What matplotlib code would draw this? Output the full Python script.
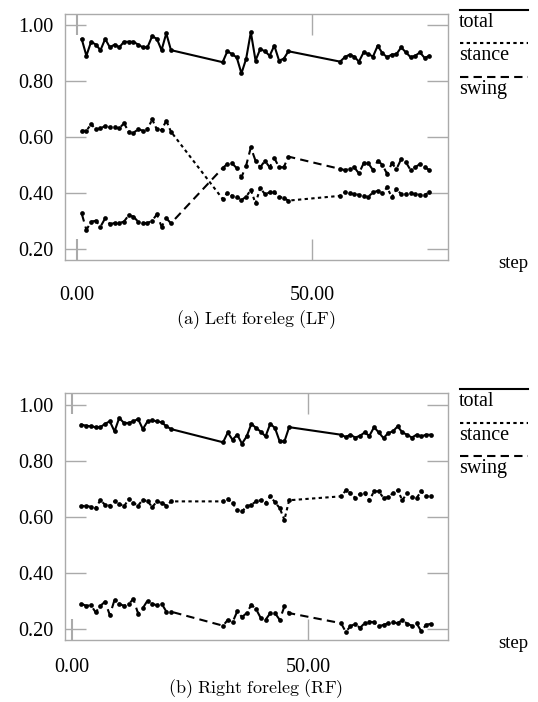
import matplotlib
matplotlib.use('Agg')
import matplotlib.pyplot as plt
from matplotlib.lines import Line2D

plt.rcParams['font.family'] = ['Liberation Serif', 'DejaVu Serif']
plt.rcParams['mathtext.fontset'] = 'cm'

# left foreleg (LF)
lf_step = list(range(1, 21)) + list(range(31, 46)) + list(range(56, 76))
lf_total = [0.95, 0.89, 0.94, 0.93, 0.91, 0.95, 0.92, 0.93, 0.92, 0.94,
            0.94, 0.94, 0.93, 0.92, 0.92, 0.96, 0.95, 0.91, 0.97, 0.91,
            0.867, 0.906, 0.896, 0.884, 0.827, 0.879, 0.974, 0.873, 0.914, 0.906,
            0.89, 0.926, 0.873, 0.879, 0.906,
            0.869, 0.885, 0.894, 0.887, 0.869, 0.902, 0.896, 0.887, 0.926, 0.899,
            0.885, 0.894, 0.896, 0.920, 0.902, 0.885, 0.89, 0.902, 0.882, 0.89]
lf_stance = [0.623, 0.622, 0.646, 0.627, 0.631, 0.639, 0.635, 0.634, 0.631, 0.649,
             0.619, 0.615, 0.627, 0.623, 0.627, 0.663, 0.627, 0.625, 0.658, 0.619,
             0.379, 0.40, 0.39, 0.387, 0.375, 0.387, 0.411, 0.363, 0.418, 0.396,
             0.402, 0.402, 0.387, 0.382, 0.373,
             0.39, 0.402, 0.399, 0.396, 0.394, 0.39, 0.387, 0.402, 0.408, 0.399,
             0.42, 0.385, 0.414, 0.396, 0.396, 0.399, 0.396, 0.394, 0.394, 0.402]
lf_swing = [0.327, 0.268, 0.298, 0.301, 0.28, 0.31, 0.289, 0.293, 0.293, 0.298,
            0.321, 0.316, 0.298, 0.292, 0.293, 0.301, 0.324, 0.28, 0.31, 0.292,
            0.489, 0.504, 0.506, 0.489, 0.456, 0.498, 0.563, 0.515, 0.492, 0.515,
            0.492, 0.525, 0.492, 0.492, 0.53,
            0.486, 0.482, 0.486, 0.492, 0.47, 0.506, 0.506, 0.482, 0.515, 0.501,
            0.468, 0.506, 0.486, 0.521, 0.51, 0.482, 0.492, 0.504, 0.492, 0.482]

# right foreleg (RF)
rf_step = list(range(2, 22)) + list(range(32, 47)) + list(range(57, 77))
rf_total = [0.930, 0.926, 0.924, 0.921, 0.921, 0.933, 0.942, 0.906, 0.954, 0.936,
            0.936, 0.942, 0.95, 0.914, 0.942, 0.945, 0.942, 0.938, 0.924, 0.914,
            0.867, 0.902, 0.876, 0.894, 0.862, 0.888, 0.933, 0.918, 0.905, 0.888,
            0.933, 0.918, 0.870, 0.870, 0.921,
            0.894, 0.886, 0.894, 0.884, 0.89, 0.902, 0.89, 0.921, 0.902, 0.882,
            0.90, 0.906, 0.924, 0.902, 0.894, 0.884, 0.894, 0.888, 0.894, 0.894]
rf_stance = [0.638, 0.641, 0.636, 0.632, 0.66, 0.644, 0.641, 0.656, 0.648, 0.638,
             0.664, 0.65, 0.641, 0.662, 0.656, 0.636, 0.656, 0.65, 0.641, 0.656,
             0.656, 0.664, 0.65, 0.624, 0.62, 0.638, 0.644, 0.656, 0.66, 0.65,
             0.674, 0.653, 0.632, 0.59, 0.66,
             0.674, 0.695, 0.686, 0.668, 0.683, 0.686, 0.66, 0.692, 0.692, 0.668,
             0.671, 0.686, 0.695, 0.66, 0.686, 0.671, 0.668, 0.692, 0.674, 0.674]
rf_swing = [0.29, 0.283, 0.285, 0.26, 0.283, 0.298, 0.25, 0.304, 0.29, 0.283,
            0.29, 0.307, 0.255, 0.275, 0.302, 0.29, 0.285, 0.29, 0.262, 0.262,
            0.212, 0.233, 0.224, 0.263, 0.243, 0.257, 0.287, 0.271, 0.239, 0.233,
            0.257, 0.257, 0.233, 0.281, 0.257,
            0.221, 0.19, 0.21, 0.219, 0.204, 0.221, 0.227, 0.224, 0.21, 0.215,
            0.221, 0.224, 0.221, 0.233, 0.219, 0.212, 0.221, 0.192, 0.215, 0.219]

yticks = [0.2, 0.4, 0.6, 0.8, 1.0]
xticks = [0, 50]

W, H = 538, 702
GRAY = '#aaaaaa'
DOT = (0, (1.6, 1.6))
DASH = (0, (4, 2.5))
FS = 14.5

fig = plt.figure(figsize=(W / 100, H / 100), dpi=100)


def fx(px):
    return px / W


def fy(py):
    return 1 - py / H


def panel(rect, xlim, ylim, steps, total, stance, swing, caption, cap_y, leg_y, step_y, xpad):
    ax = fig.add_axes(rect)
    for vals, ls in [(total, '-'), (stance, DOT), (swing, DASH)]:
        ax.plot(steps, vals, color='black', linestyle=ls, lw=1.5,
                marker='o', markersize=3.4, markeredgewidth=0)
    ax.set_xlim(xlim)
    ax.set_ylim(ylim)
    ax.set_xticks(xticks)
    ax.set_xticklabels(['%.2f' % v for v in xticks])
    ax.set_yticks(yticks)
    ax.set_yticklabels(['%.2f' % v for v in yticks])
    for s in ax.spines.values():
        s.set_color(GRAY)
        s.set_linewidth(1.0)
    ax.tick_params(axis='both', direction='in', length=15, width=1.0, color=GRAY,
                   labelsize=FS, top=True, right=True)
    ax.tick_params(axis='x', pad=xpad)
    ax.tick_params(axis='y', pad=8)
    t0 = ax.xaxis.get_major_ticks()[0]
    t0.tick1line.set_color('black')
    t0.tick2line.set_color('black')
    t0.tick1line.set_markeredgewidth(1.5)
    t0.tick2line.set_markeredgewidth(1.5)

    fig.text(0.476, fy(cap_y), caption, ha='center', va='center', fontsize=13)
    fig.text(fx(528), fy(step_y), 'step', ha='right', va='center', fontsize=13.5)

    # legend drawn beside the axes, line above each label
    for i, (name, ls) in enumerate([('total', '-'), ('stance', DOT), ('swing', DASH)]):
        ly = leg_y + i * 33.3
        fig.add_artist(Line2D([fx(460), fx(528)], [fy(ly), fy(ly)],
                              transform=fig.transFigure, color='black',
                              linestyle=ls, lw=1.5))
        fig.text(fx(459), fy(ly + 12.5), name, ha='left', va='center', fontsize=FS)
    return ax


panel([fx(64.5), fy(260), fx(447.7 - 64.5), (260 - 14) / H], (-2.66, 78.9), (0.161, 1.039),
      lf_step, lf_total, lf_stance, lf_swing,
      r'$\mathrm{(a)\ Left\ foreleg\ (LF)}$', 320, 10, 263, 19)
panel([fx(64.5), fy(640), fx(447.7 - 64.5), (640 - 393) / H], (-1.6, 79.6), (0.161, 1.043),
      rf_step, rf_total, rf_stance, rf_swing,
      r'$\mathrm{(b)\ Right\ foreleg\ (RF)}$', 689, 389.3, 643, 13)

fig.savefig('out.png', dpi=100)
